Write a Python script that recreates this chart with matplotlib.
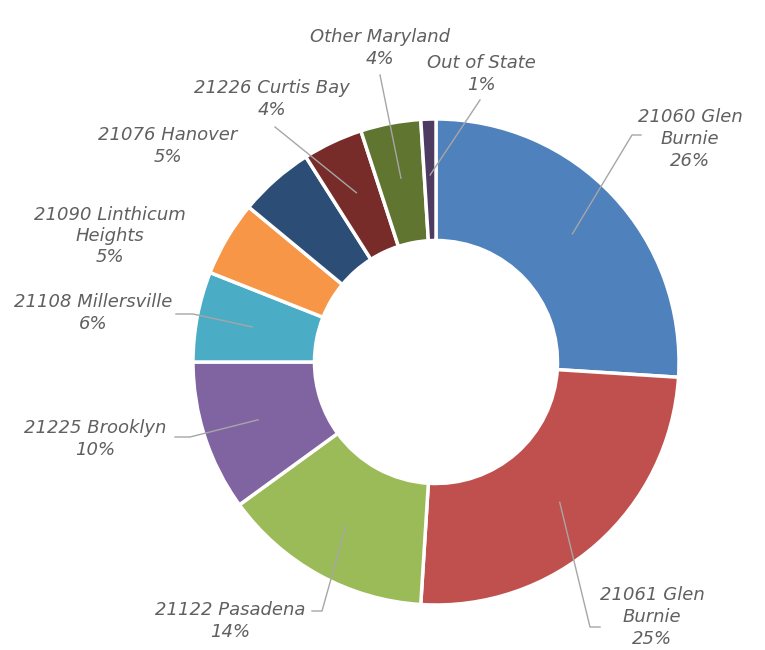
import numpy as np
import matplotlib
matplotlib.use('Agg')
import matplotlib.pyplot as plt

# data
labels = ['21060 Glen\nBurnie', '21061 Glen\nBurnie', '21122 Pasadena', '21225 Brooklyn',
          '21108 Millersville', '21090 Linthicum\nHeights', '21076 Hanover',
          '21226 Curtis Bay', 'Other Maryland', 'Out of State']
shares = [26, 25, 14, 10, 6, 5, 5, 4, 4, 1]
colors = ['#4F81BD', '#C0504D', '#9BBB59', '#8064A2', '#4BACC6',
          '#F79646', '#2C4D75', '#772C2A', '#5F7530', '#4D3B62']

W, H = 765, 650
fig = plt.figure(figsize=(W / 100, H / 100), dpi=100)
ax = fig.add_axes([0, 0, 1, 1])

cx, cy, R = 436, H - 362, 243
wedges, _ = ax.pie(shares, colors=colors, startangle=90, counterclock=False,
                   center=(cx, cy), radius=R,
                   wedgeprops=dict(width=R * 0.5, edgecolor='white', linewidth=2.5))
ax.set_xlim(0, W)
ax.set_ylim(0, H)
ax.set_aspect('equal')
ax.axis('off')

# label layout (image pixel coords, y from top): text centre, leader path
layout = [
    ((690, 139), [(632, 135), (641, 135)]),
    ((652, 617), [(590, 627), (600, 627)]),
    ((230, 621), [(322, 611), (312, 611)]),
    ((95, 439), [(190, 437), (175, 437)]),
    ((93, 313), [(193, 314), (176, 314)]),
    ((110, 236), None),
    ((168, 146), None),
    ((272, 99), [(275, 127)]),
    ((380, 48), [(380, 75)]),
    ((481, 74), [(480, 100)]),
]

gray = '#606060'
for w, lab, val, (tpos, path) in zip(wedges, labels, shares, layout):
    ang = np.deg2rad((w.theta1 + w.theta2) / 2)
    ax0 = cx + 0.77 * R * np.cos(ang)
    ay0 = cy + 0.77 * R * np.sin(ang)
    if path:
        xs = [ax0] + [p[0] for p in path]
        ys = [ay0] + [H - p[1] for p in path]
        ax.plot(xs, ys, color='#A6A6A6', lw=1, zorder=3)
    ax.text(tpos[0], H - tpos[1], f'{lab}\n{val}%', ha='center', va='center',
            fontsize=13, style='italic', color=gray, linespacing=1.25,
            family=['DejaVu Sans'])

fig.savefig('out.png', dpi=100)
